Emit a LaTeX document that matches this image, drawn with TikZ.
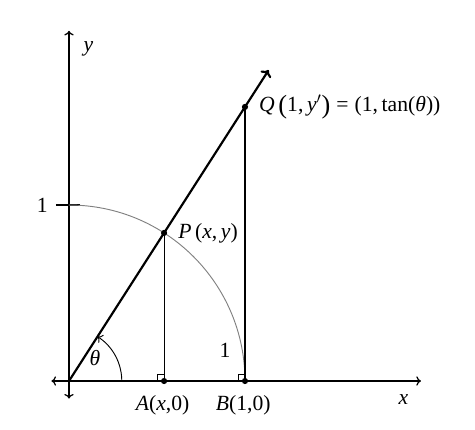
\documentclass[tikz,border=0pt]{standalone}
\usepackage{fontspec}
\setmainfont{Liberation Serif}
\usetikzlibrary{arrows.meta}
\newcommand{\mi}[1]{\textit{#1}}
\newcommand{\bigp}[1]{{\fontsize{17}{17}\selectfont\raisebox{-0.8pt}{#1}}}
\begin{document}
\begin{tikzpicture}[x=4cm,y=4cm,
  axis/.style={line width=0.8pt,-{To[length=3pt,width=6pt]}},
  ray/.style={line width=1.4pt,-{To[length=4pt,width=8pt]}},
  thinline/.style={line width=0.7pt},
  dot/.style={circle,fill=black,inner sep=0pt,minimum size=4pt},
  lbl/.style={inner sep=1pt,font=\fontsize{14}{16}\selectfont}]
\useasboundingbox (-0.392,-0.278) rectangle (2.307,2.165);
\coordinate (O) at (0,0);
\coordinate (xl) at (-0.1,0);
\coordinate (xr) at (2.0,0);
\coordinate (yb) at (0,-0.1);
\coordinate (yt) at (0,1.99);
\coordinate (R) at (57.2958:2.1);
\draw[axis] (O) -- (xr);
\draw[axis] (O) -- (xl);
\draw[axis] (O) -- (yt);
\draw[axis] (O) -- (yb);
\node[lbl] (xlab) at (1.9,-0.105) {\mi{x}};
\node[lbl] (ylab) at (0.11,1.89) {\mi{y}};
% tick at 1
\coordinate (t1) at (-0.075,1);
\coordinate (t2) at (0.06,1);
\draw[thinline] (t1) -- (t2);
\node[lbl,anchor=east] (one) at (-0.11,1) {1};
% unit arc
\draw[gray,line width=0.6pt] (1,0) arc[start angle=0,end angle=90,radius=1];
% points
\node[dot] (P) at ({cos(57.2958)},{sin(57.2958)}) {};
\node[dot] (A) at ({cos(57.2958)},0) {};
\node[dot] (Q) at (1,{tan(57.2958)}) {};
\node[dot] (B) at (1,0) {};
\draw[thinline] (P.center) -- (A.center);
\draw[thinline] (Q.center) -- (B.center);
% right angle marks
\draw[line width=0.5pt] (A.center) ++(-0.04,0) |- ++(0.04,0.04);
\draw[line width=0.5pt] (B.center) ++(-0.04,0) |- ++(0.04,0.04);
% ray
\draw[ray] (O) -- (R);
% angle
\draw[line width=0.6pt,-{To[length=3pt,width=6pt]}] (0.3,0) arc[start angle=0,end angle=57.3,radius=0.3];
\node[lbl] (th) at (0.148,0.13) {\mi{θ}};
% labels
\node[lbl] (Alab) at (0.532,-0.137) {\mi{A}(\mi{x},0)};
\node[lbl] (Blab) at (0.99,-0.137) {\mi{B}(1,0)};
\node[lbl] (onearc) at (0.886,0.176) {1};
\node[lbl,anchor=west] (Plab) at ([xshift=8pt]P.center) {\mi{P}\,(\mi{x},\,\mi{y})};
\node[lbl,anchor=west] (Qlab) at ([xshift=8pt]Q.center) {\mi{Q}\,\bigp{(}1,\,\mi{y}$'$\bigp{)}\;=\;(1,\,tan(\mi{θ}))};
\end{tikzpicture}
\end{document}
